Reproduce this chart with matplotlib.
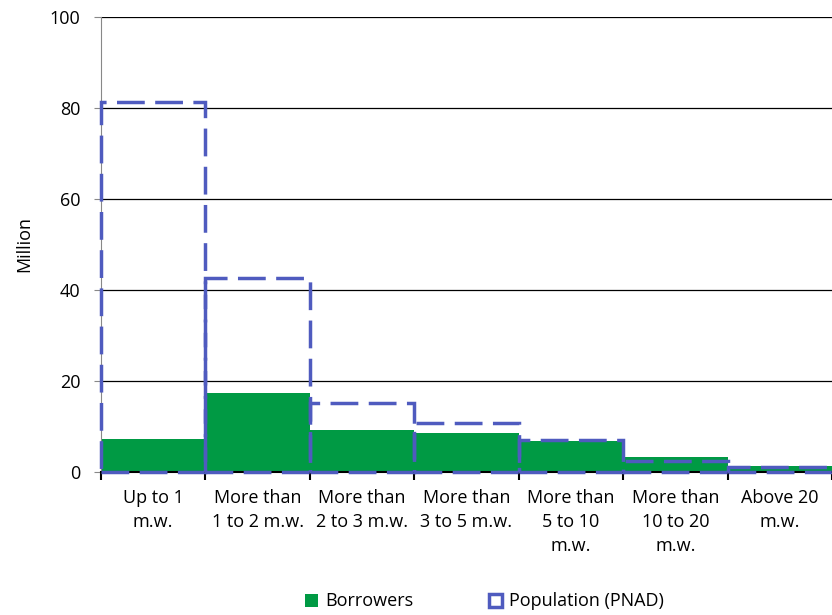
import numpy as np
import matplotlib.pyplot as plt
from matplotlib.patches import Patch

# Income brackets (multiples of minimum wage)
categories = ["Up to 1\nm.w.", "More than\n1 to 2 m.w.", "More than\n2 to 3 m.w.",
              "More than\n3 to 5 m.w.", "More than\n5 to 10\nm.w.",
              "More than\n10 to 20\nm.w.", "Above 20\nm.w."]
borrowers = [7.2, 17.4, 9.2, 8.6, 6.8, 3.2, 1.4]
population = [81.2, 42.6, 15.2, 10.8, 7.0, 2.4, 1.0]

green = "#009A44"
blue = "#4F5BBF"
fs = 13

plt.rcParams['font.family'] = ['Open Sans', 'DejaVu Sans']

fig = plt.figure(figsize=(8.32, 6.15), dpi=100)
ax = fig.add_axes([0.1214, 0.2325, 0.8786, 0.74])

x = np.arange(len(categories))
ax.bar(x, borrowers, width=1.0, align='edge', color=green, zorder=2)
ax.bar(x, population, width=1.0, align='edge', fill=False, edgecolor=blue,
       linestyle=(0, (8, 3)), linewidth=2.5, zorder=3, clip_on=False)

ax.set_xlim(0, len(categories))
ax.set_ylim(0, 100)
ax.set_yticks([0, 20, 40, 60, 80, 100])
ax.yaxis.grid(True, color='black', linewidth=0.9)
ax.set_axisbelow(True)

ax.set_xticks(np.arange(len(categories) + 1))
ax.set_xticklabels([])
ax.set_xticks(x + 0.5, minor=True)
ax.set_xticklabels(categories, minor=True, fontsize=fs, linespacing=1.45)
ax.tick_params(axis='x', which='major', length=6, width=1.5, direction='out')
ax.tick_params(axis='x', which='minor', length=0, pad=12)
ax.tick_params(axis='y', length=5, color='#888888', labelsize=fs, pad=10)

for s in ['top', 'right']:
    ax.spines[s].set_visible(False)
ax.spines['left'].set_color('#888888')
ax.spines['bottom'].set_color('black')
ax.spines['bottom'].set_linewidth(1.5)

ax.set_ylabel("Million", fontsize=fs, labelpad=12)

handles = [Patch(facecolor=green, edgecolor='none', label="Borrowers"),
           Patch(facecolor='none', edgecolor=blue, linewidth=2.5, label="Population (PNAD)")]
fig.legend(handles=handles, loc='center', bbox_to_anchor=(0.582, 0.022), ncol=2,
           frameon=False, fontsize=fs, handlelength=0.75, handleheight=0.75,
           handletextpad=0.35, columnspacing=4.2)

fig.savefig("out.png", dpi=100)
